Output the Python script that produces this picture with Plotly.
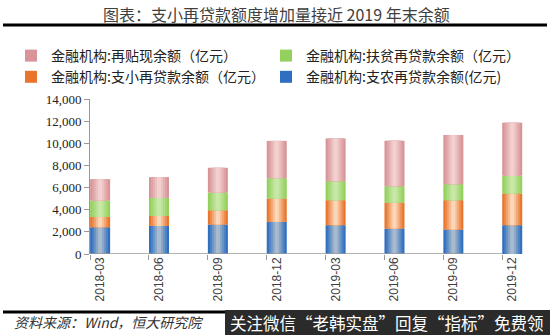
import plotly.graph_objects as go

categories = ["2018-03", "2018-06", "2018-09", "2018-12", "2019-03", "2019-06", "2019-09", "2019-12"]
zhinong = [2415, 2540, 2660, 2900, 2600, 2300, 2210, 2600]      # 支农再贷款余额
zhixiao = [935, 900, 1295, 2110, 2260, 2350, 2650, 2870]        # 支小再贷款余额
fupin = [1480, 1630, 1600, 1840, 1720, 1475, 1450, 1590]        # 扶贫再贷款余额
zaitiexian = [1930, 1870, 2230, 3365, 3860, 4105, 4430, 4800]   # 再贴现余额

series = [
    ("金融机构:支农再贷款余额(亿元)", zhinong, (0x2f, 0x6f, 0xc0), (0xa8, 0xba, 0xcc), 4),
    ("金融机构:支小再贷款余额（亿元）", zhixiao, (0xe9, 0x74, 0x2b), (0xfc, 0xd6, 0xb8), 3),
    ("金融机构:扶贫再贷款余额（亿元）", fupin, (0x94, 0xd0, 0x5e), (0xc8, 0xe8, 0xa8), 2),
    ("金融机构:再贴现余额（亿元）", zaitiexian, (0xd8, 0x94, 0x98), (0xf2, 0xd0, 0xcf), 1),
]

x = list(range(len(categories)))
fig = go.Figure()

base = [0] * len(categories)
layers = [1.0, 0.8, 0.6, 0.4, 0.2]
BW = 0.34
for name, vals, edge, center, rank in series:
    for li, frac in enumerate(layers):
        t = li / (len(layers) - 1)
        c = tuple(int(edge[k] + (center[k] - edge[k]) * t) for k in range(3))
        col = "rgb(%d,%d,%d)" % c
        fig.add_trace(go.Bar(
            x=x, y=vals, base=base, width=BW * frac,
            marker=dict(color=col, line=dict(width=0)),
            name=name, showlegend=(li == 0), legendrank=rank,
            hoverinfo="skip" if li else None,
        ))
    base = [b + v for b, v in zip(base, vals)]

W, H = 550, 335
plot_l, plot_r, plot_t, plot_b = 90, 26, 99, 81
plot_w = W - plot_l - plot_r
plot_h = H - plot_t - plot_b


def px(xp):
    return (xp - plot_l) / plot_w


def py(yp):
    return 1 - (yp - plot_t) / plot_h


fig.update_layout(
    barmode="overlay",
    width=W, height=H,
    margin=dict(l=plot_l, r=plot_r, t=plot_t, b=plot_b, autoexpand=False),
    paper_bgcolor="white", plot_bgcolor="white",
    font=dict(family="Noto Sans CJK SC", color="#222"),
    showlegend=True,
    legend=dict(
        orientation="h", xref="paper", yref="paper",
        x=px(11), y=py(40), xanchor="left", yanchor="top",
        entrywidth=210, entrywidthmode="pixels",
        font=dict(size=14, family="Noto Sans CJK SC", color="#222"),
        itemwidth=30, bgcolor="rgba(0,0,0,0)",
        traceorder="normal",
    ),
    xaxis=dict(
        range=[-BW / 2 - 0.002, 7.2], tickvals=x, ticktext=categories,
        tickangle=-90, ticks="", showline=False, showgrid=False, zeroline=False,
        automargin=False,
        tickfont=dict(family="Liberation Sans", size=12, color="#404040"),
        minor=dict(tickvals=[i - BW / 2 for i in x], ticks="outside",
                   ticklen=5, tickcolor="#999", showgrid=False),
    ),
    yaxis=dict(
        range=[0, 14000], dtick=2000, tickformat=",d",
        showline=True, linecolor="#999", linewidth=1,
        ticks="outside", ticklen=5, tickcolor="#999",
        showgrid=False, zeroline=False, automargin=False,
        tickfont=dict(family="Liberation Serif", size=13, color="#222"),
    ),
)

# x axis line from first to last tick
fig.add_shape(type="line", xref="x", yref="y", x0=-BW / 2, x1=x[-1] - BW / 2, y0=0, y1=0,
              line=dict(color="#999", width=1.5))

fig.add_annotation(text="图表：支小再贷款额度增加量接近 2019 年末余额", xref="paper", yref="paper",
                   x=px(276), y=py(14), showarrow=False, xanchor="center", yanchor="middle",
                   font=dict(size=16, color="#404040", family="Noto Sans CJK SC"))
fig.add_shape(type="line", xref="paper", yref="paper", x0=px(3), x1=px(547), y0=py(25), y1=py(25),
              line=dict(color="black", width=3))
fig.add_shape(type="line", xref="paper", yref="paper", x0=px(3), x1=px(547), y0=py(312), y1=py(312),
              line=dict(color="black", width=3))
fig.add_shape(type="rect", xref="paper", yref="paper", x0=px(225), x1=px(551), y0=py(310), y1=py(336),
              line=dict(width=0), fillcolor="#2b2b2b")
fig.add_annotation(text="<i>资料来源：Wind，恒大研究院</i>", xref="paper", yref="paper",
                   x=px(12), y=py(322), xanchor="left", yanchor="middle", showarrow=False,
                   font=dict(size=14, color="#333", family="Noto Sans CJK SC"))
fig.add_annotation(text="关注微信“老韩实盘”回复“指标”免费领", xref="paper", yref="paper",
                   x=px(387), y=py(323), xanchor="center", yanchor="middle", showarrow=False,
                   font=dict(size=16.5, color="white", family="Noto Sans CJK SC"))

fig.write_html("out.html")
